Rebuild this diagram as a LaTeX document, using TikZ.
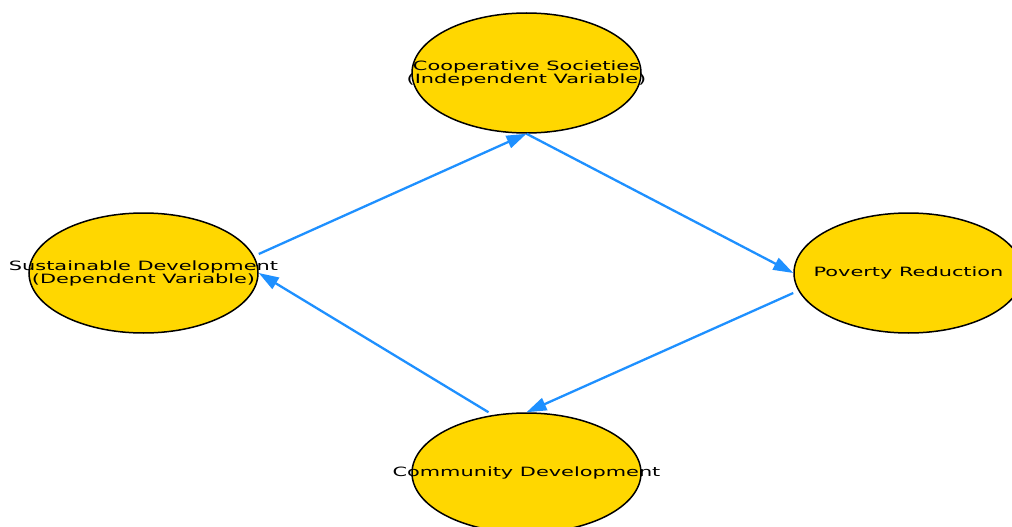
\documentclass[tikz,border=0pt]{standalone}
\usepackage{fontspec}
\setmainfont{DejaVu Sans}
\usetikzlibrary{arrows.meta,shapes.geometric}
\definecolor{gold}{HTML}{FFD700}
\definecolor{dblue}{HTML}{1E90FF}
\newcommand\stretchtxt[1]{\scalebox{1.63}[1]{#1}}
\begin{document}
\begin{tikzpicture}[x=1pt,y=-1pt,
  bubble/.style={ellipse, draw=black, line width=1.5pt, fill=gold,
    minimum width=229pt, minimum height=120pt, inner sep=0pt},
  lbl/.style={font=\fontsize{12.8}{13}\selectfont, align=center, inner sep=0pt},
  link/.style={draw=dblue, line width=2.3pt, -{Triangle[length=20pt,width=13pt]}}]
\clip (0,0) rectangle (1012,527);
\fill[white] (0,0) rectangle (1012,527);
\node[bubble] (coop) at (526.5,73) {};
\node[bubble] (sus) at (143.5,273) {};
\node[bubble] (pov) at (908.5,273) {};
\node[bubble] (com) at (526.5,473) {};
\draw[link] ([yshift=19pt]sus.east) -- (coop.south);
\draw[link] (coop.south) -- (pov.west);
\draw[link] ([yshift=-20pt]pov.west) -- (com.north);
\draw[link] ([xshift=-38pt]com.north) -- (sus.east);
\node[lbl] (coopT) at (coop) {\stretchtxt{Cooperative Societies}\\\stretchtxt{(Independent Variable)}};
\node[lbl] (susT) at (sus) {\stretchtxt{Sustainable Development}\\\stretchtxt{(Dependent Variable)}};
\node[lbl] (povT) at (pov) {\stretchtxt{Poverty Reduction}};
\node[lbl] (comT) at (com) {\stretchtxt{Community Development}};
\end{tikzpicture}
\end{document}
